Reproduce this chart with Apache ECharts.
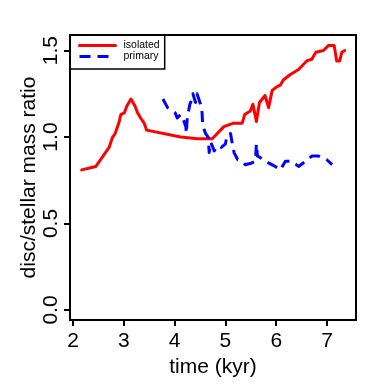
<!DOCTYPE html>
<html>
<head>
<meta charset="utf-8">
<script src="https://cdn.jsdelivr.net/npm/echarts@6/dist/echarts.min.js"></script>
<style>
  html, body { margin: 0; padding: 0; background: #fff; }
  #chart { width: 390px; height: 390px; }
</style>
</head>
<body>
<div id="chart"></div>
<script>
// isolated disc: [time (kyr), disc/stellar mass ratio]
const isolated = [
  [2.17, 0.81], [2.45, 0.83], [2.71, 0.94], [2.78, 1.00], [2.83, 1.02], [2.91, 1.09],
  [2.94, 1.13], [3.01, 1.14], [3.06, 1.18], [3.14, 1.22], [3.22, 1.18], [3.27, 1.14],
  [3.33, 1.11], [3.40, 1.08], [3.45, 1.04], [4.12, 1.00], [4.45, 0.99], [4.74, 0.99],
  [4.97, 1.06], [5.16, 1.08], [5.33, 1.08], [5.38, 1.13], [5.49, 1.15], [5.54, 1.19],
  [5.61, 1.09], [5.67, 1.20], [5.78, 1.24], [5.85, 1.17], [5.92, 1.27], [6.01, 1.29],
  [6.08, 1.30], [6.14, 1.33], [6.27, 1.36], [6.44, 1.39], [6.60, 1.44], [6.70, 1.45],
  [6.78, 1.49], [6.93, 1.50], [7.03, 1.53], [7.14, 1.53], [7.19, 1.44], [7.25, 1.44],
  [7.29, 1.49], [7.35, 1.50]
]

// primary disc
const primary = [
  [3.77, 1.22], [3.86, 1.17], [3.92, 1.16], [4.01, 1.14], [4.05, 1.11], [4.12, 1.13],
  [4.16, 1.11], [4.22, 1.06], [4.23, 1.02], [4.25, 1.12], [4.28, 1.16], [4.30, 1.19],
  [4.33, 1.21], [4.36, 1.25], [4.41, 1.20], [4.44, 1.25], [4.51, 1.19], [4.54, 1.14],
  [4.55, 1.08], [4.57, 1.05], [4.61, 1.02], [4.66, 1.00], [4.68, 0.91], [4.71, 0.97],
  [4.74, 0.95], [4.78, 0.92], [4.84, 0.95], [4.92, 0.94], [5.00, 0.96], [5.03, 1.01],
  [5.10, 1.02], [5.13, 0.97], [5.17, 0.91], [5.24, 0.87], [5.33, 0.86], [5.39, 0.84],
  [5.52, 0.85], [5.59, 0.86], [5.61, 0.96], [5.63, 0.89], [5.69, 0.88], [5.78, 0.86],
  [5.98, 0.83], [6.08, 0.81], [6.18, 0.86], [6.31, 0.86], [6.44, 0.83], [6.53, 0.85],
  [6.70, 0.89], [6.83, 0.89], [6.99, 0.87], [7.10, 0.84]
]

const xTicks = [2, 3, 4, 5, 6, 7]
const yTicks = [0, 0.5, 1.0, 1.5]

const font = 'Liberation Sans, Arial, Helvetica, sans-serif'

const chart = echarts.init(document.getElementById('chart'))

chart.setOption({
  animation: false,
  backgroundColor: '#fff',
  textStyle: { fontFamily: font },
  grid: {
    left: 70, right: 34, top: 35, bottom: 70,
    show: true, borderColor: '#000', borderWidth: 2, backgroundColor: 'transparent'
  },
  legend: {
    left: 70, top: 35,
    orient: 'vertical',
    itemWidth: 36, itemHeight: 11, itemGap: 0,
    padding: [5, 5, 7, 8],
    borderColor: '#000', borderWidth: 1.5,
    itemStyle: { opacity: 0 },
    lineStyle: { width: 3 },
    textStyle: { fontSize: 10.5, color: '#000', lineHeight: 11, padding: [0, 0, 0, 3] },
    data: ['isolated', 'primary']
  },
  xAxis: {
    type: 'value',
    min: 1.94, max: 7.57,
    name: 'time (kyr)',
    nameLocation: 'middle',
    nameGap: 37,
    nameMoveOverlap: false,
    nameTextStyle: { fontSize: 21, color: '#000' },
    splitLine: { show: false },
    axisLine: { show: true, onZero: false, lineStyle: { color: '#000', width: 2 } },
    axisTick: { show: true, length: 6, lineStyle: { color: '#000', width: 2 }, customValues: xTicks },
    axisLabel: { fontSize: 21, color: '#000', margin: 11, customValues: xTicks }
  },
  yAxis: {
    type: 'value',
    min: -0.058, max: 1.59,
    name: 'disc/stellar mass ratio',
    nameLocation: 'middle',
    nameGap: 30,
    nameMoveOverlap: false,
    nameTextStyle: { fontSize: 21, color: '#000' },
    splitLine: { show: false },
    axisLine: { show: true, onZero: false, lineStyle: { color: '#000', width: 2 } },
    axisTick: { show: true, length: 6, lineStyle: { color: '#000', width: 2 }, customValues: yTicks },
    axisLabel: {
      fontSize: 21, color: '#000', margin: 8, rotate: 90,
      customValues: yTicks,
      formatter: v => v.toFixed(1)
    }
  },
  series: [
    {
      name: 'isolated',
      type: 'line',
      data: isolated,
      symbol: 'none',
      color: '#ff0000',
      lineStyle: { color: '#ff0000', width: 3, cap: 'round', join: 'round' }
    },
    {
      name: 'primary',
      type: 'line',
      data: primary,
      symbol: 'none',
      color: '#0000ff',
      lineStyle: { color: '#0000ff', width: 3, type: [11, 7], cap: 'butt', join: 'round' }
    }
  ]
})
</script>
</body>
</html>
